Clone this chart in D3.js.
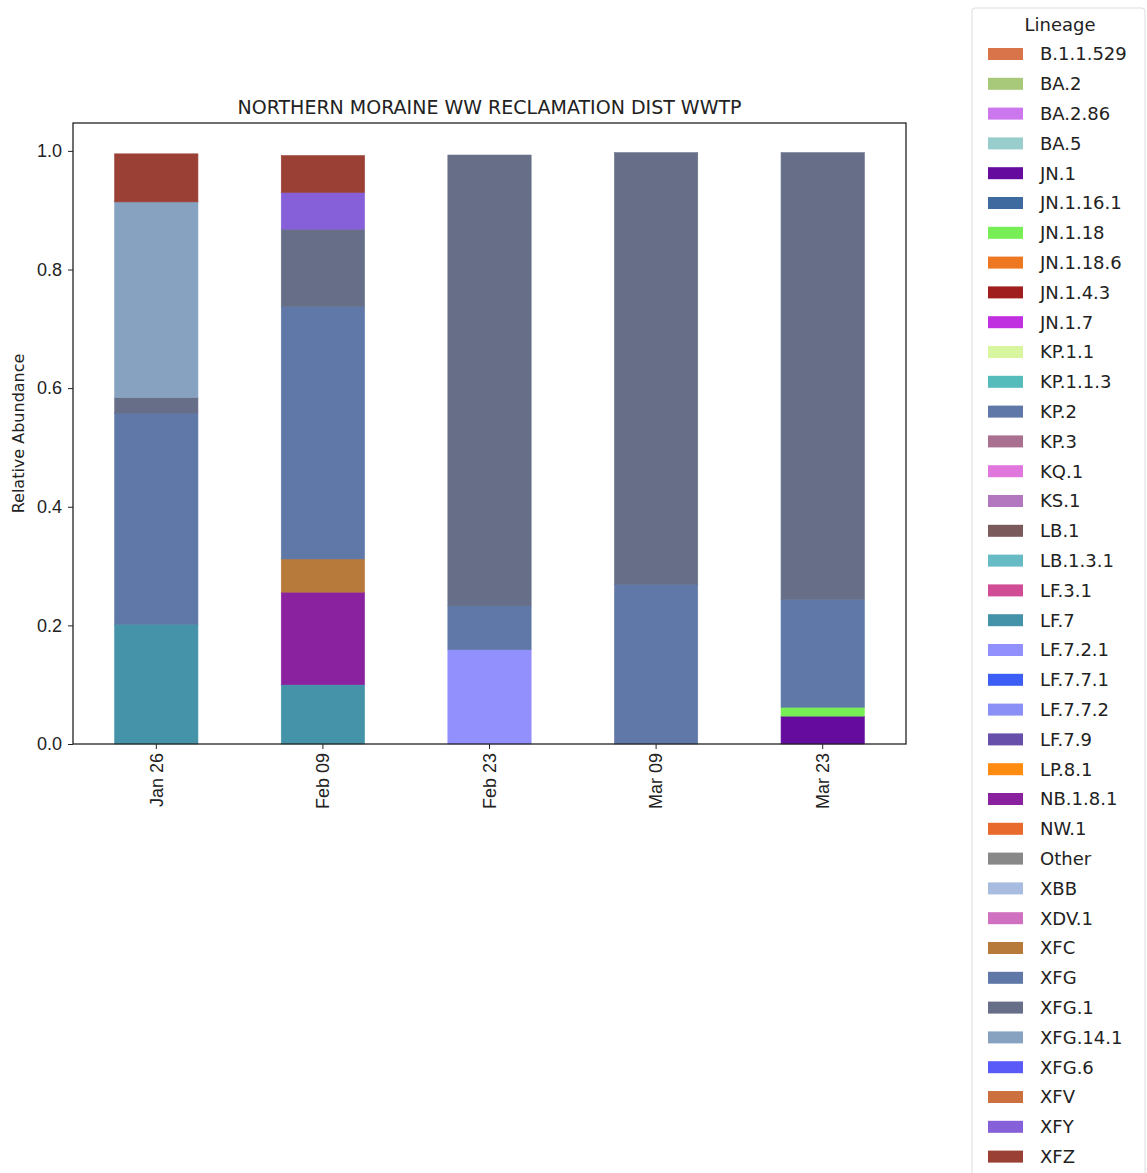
<!DOCTYPE html>
<html>
<head>
<meta charset="utf-8">
<script src="https://cdn.jsdelivr.net/npm/d3@7"></script>
<style>
  body { margin: 0; background: #fff; }
  svg { font-family: "DejaVu Sans", sans-serif; }
</style>
</head>
<body>
<svg id="chart" width="1147" height="1173"></svg>
<script>
// sample dates (x categories)
const dates = ["Jan 26", "Feb 09", "Feb 23", "Mar 09", "Mar 23"];

// legend order = stacking order
const lineages = ["B.1.1.529", "BA.2", "BA.2.86", "BA.5", "JN.1", "JN.1.16.1", "JN.1.18",
    "JN.1.18.6", "JN.1.4.3", "JN.1.7", "KP.1.1", "KP.1.1.3", "KP.2", "KP.3", "KQ.1", "KS.1",
    "LB.1", "LB.1.3.1", "LF.3.1", "LF.7", "LF.7.2.1", "LF.7.7.1", "LF.7.7.2", "LF.7.9", "LP.8.1",
    "NB.1.8.1", "NW.1", "Other", "XBB", "XDV.1", "XFC", "XFG", "XFG.1", "XFG.14.1", "XFG.6",
    "XFV", "XFY", "XFZ"];

const lineageColors = ["#d9734a", "#a8c97a", "#cc77ee", "#99cccc", "#650c9e", "#3f6aa0", "#77ee55",
    "#ee7722", "#a01e1e", "#c030e0", "#d8f5a0", "#55bbbb", "#5f78a8", "#aa7090", "#e077dd", "#b377c0",
    "#7a5a5a", "#66bbc4", "#d04c94", "#4593a8", "#9290fc", "#3d5ef5", "#8a90f5", "#6650aa", "#ff8c10",
    "#8a22a0", "#e86a2c", "#888888", "#a8bce0", "#d070c0", "#b87a3a", "#5f78a8", "#676f88", "#86a2c0",
    "#5a5af8", "#cc7040", "#8660d8", "#9a4035"];

// abundance per date for the lineages that show up
const jn1      = [0,     0,     0,     0,     0.047];
const jn118    = [0,     0,     0,     0,     0.015];
const lf7      = [0.202, 0.100, 0,     0,     0];
const lf721    = [0,     0,     0.159, 0,     0];
const nb181    = [0,     0.156, 0,     0,     0];
const xfc      = [0,     0.056, 0,     0,     0];
const xfg      = [0.356, 0.426, 0.074, 0.269, 0.182];
const xfg1     = [0.026, 0.130, 0.760, 0.728, 0.753];
const xfg141   = [0.330, 0,     0,     0,     0];
const xfy      = [0,     0.062, 0,     0,     0];
const xfz      = [0.081, 0.062, 0,     0,     0];

const present = {
    "JN.1": jn1, "JN.1.18": jn118, "LF.7": lf7, "LF.7.2.1": lf721, "NB.1.8.1": nb181,
    "XFC": xfc, "XFG": xfg, "XFG.1": xfg1, "XFG.14.1": xfg141, "XFY": xfy, "XFZ": xfz
};

const table = dates.map((d, i) => {
    const row = { date: d };
    lineages.forEach(l => { row[l] = present[l] ? present[l][i] : 0; });
    return row;
});

const svg = d3.select("#chart");
const margin = { left: 73, right: 241, top: 123, bottom: 429 };
const W = 1147, H = 1173;

const x = d3.scaleBand()
    .domain(dates)
    .range([margin.left, W - margin.right])
    .paddingInner(0.5)
    .paddingOuter(0.25);

const y = d3.scaleLinear()
    .domain([0, 1.047])
    .range([H - margin.bottom, margin.top]);

const color = d3.scaleOrdinal().domain(lineages).range(lineageColors);

const series = d3.stack().keys(lineages)(table);

svg.append("g")
    .selectAll("g")
    .data(series)
    .join("g")
    .attr("fill", d => color(d.key))
    .attr("stroke", d => color(d.key))
    .attr("stroke-width", 0.6)
    .selectAll("rect")
    .data(d => d.filter(s => s[1] - s[0] > 0))
    .join("rect")
    .attr("x", d => x(d.data.date))
    .attr("width", x.bandwidth())
    .attr("y", d => y(d[1]))
    .attr("height", d => y(d[0]) - y(d[1]));

// axes
const yAxis = svg.append("g")
    .attr("transform", `translate(${margin.left},0)`)
    .call(d3.axisLeft(y).tickValues([0, 0.2, 0.4, 0.6, 0.8, 1.0]).tickFormat(d3.format(".1f")).tickSize(5).tickPadding(6));
yAxis.select(".domain").remove();
yAxis.selectAll("text").attr("font-size", 18).attr("fill", "#222");
yAxis.selectAll("line").attr("stroke", "#222");

const xAxis = svg.append("g")
    .attr("transform", `translate(0,${H - margin.bottom})`)
    .call(d3.axisBottom(x).tickSize(5).tickPadding(6));
xAxis.select(".domain").remove();
xAxis.selectAll("line").attr("stroke", "#222");
xAxis.selectAll("text")
    .attr("font-size", 18)
    .attr("fill", "#222")
    .attr("transform", "rotate(-90)")
    .attr("text-anchor", "end")
    .attr("x", -9)
    .attr("y", 0)
    .attr("dy", "0.35em");

// frame
svg.append("rect")
    .attr("x", margin.left)
    .attr("y", margin.top)
    .attr("width", W - margin.right - margin.left)
    .attr("height", H - margin.bottom - margin.top)
    .attr("fill", "none")
    .attr("stroke", "#222")
    .attr("stroke-width", 1.3);

svg.append("text")
    .attr("x", (margin.left + W - margin.right) / 2)
    .attr("y", 114)
    .attr("text-anchor", "middle")
    .attr("font-size", 19)
    .attr("fill", "#222")
    .text("NORTHERN MORAINE WW RECLAMATION DIST WWTP");

svg.append("text")
    .attr("transform", `translate(24,${(margin.top + H - margin.bottom) / 2}) rotate(-90)`)
    .attr("text-anchor", "middle")
    .attr("font-size", 16)
    .attr("fill", "#222")
    .text("Relative Abundance");

// legend
const legend = svg.append("g").attr("transform", "translate(972,8)");
legend.append("rect")
    .attr("width", 173)
    .attr("height", 1180)
    .attr("rx", 3)
    .attr("fill", "#fff")
    .attr("stroke", "#ddd");
legend.append("text")
    .attr("x", 88)
    .attr("y", 23)
    .attr("text-anchor", "middle")
    .attr("font-size", 18)
    .attr("fill", "#222")
    .text("Lineage");

const item = legend.selectAll("g.item")
    .data(lineages)
    .join("g")
    .attr("class", "item")
    .attr("transform", (d, i) => `translate(16,${46 + i * 29.8})`);
item.append("rect")
    .attr("width", 35)
    .attr("height", 12)
    .attr("y", -6)
    .attr("fill", d => color(d));
item.append("text")
    .attr("x", 52)
    .attr("dy", "0.35em")
    .attr("font-size", 18)
    .attr("fill", "#222")
    .text(d => d);
</script>
</body>
</html>
